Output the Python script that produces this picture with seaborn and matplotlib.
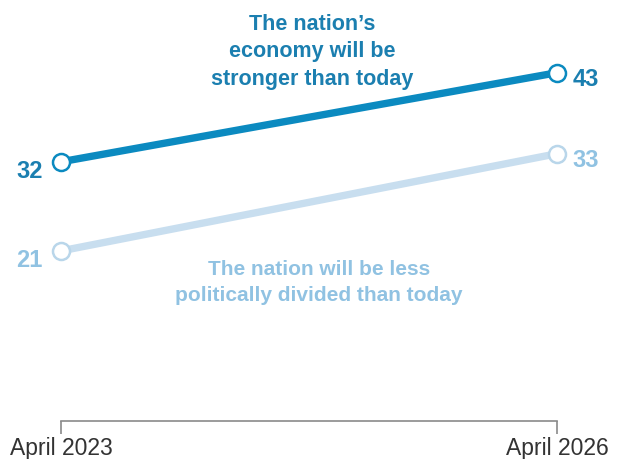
import matplotlib
matplotlib.use("Agg")
import matplotlib.pyplot as plt
import seaborn as sns
import pandas as pd

# Survey share expecting each outcome, by survey wave
periods = ["April 2023", "April 2026"]
economy_stronger = [32, 43]
less_divided = [21, 33]
series_names = ["The nation\u2019s\neconomy will be\nstronger than today",
                "The nation will be less\npolitically divided than today"]

dark_line = "#0b8ac0"
dark_text = "#1b7fb0"
light_line = "#c8deef"
light_text = "#90c2e2"

sns.set_theme(style="white")
plt.rcParams["font.family"] = ["Liberation Sans Narrow", "Liberation Sans", "DejaVu Sans"]

df = pd.DataFrame({
    "pos": list(range(len(periods))) * 2,
    "value": economy_stronger + less_divided,
    "series": [series_names[0]] * 2 + [series_names[1]] * 2,
})

fig = plt.figure(figsize=(6.2, 4.6), dpi=100)
ax = fig.add_axes([61 / 620, 38 / 460, 496 / 620, 405 / 460])

sns.lineplot(data=df, x="pos", y="value", hue="series",
             palette={series_names[0]: dark_line, series_names[1]: light_line},
             linewidth=5.3, legend=False, ax=ax, solid_capstyle="butt")
for name, col in [(series_names[0], dark_line), (series_names[1], "#b9d6ea")]:
    sub = df[df["series"] == name]
    ax.scatter(sub["pos"], sub["value"], s=150, facecolor="white",
               edgecolor=col, linewidth=1.8, zorder=5, clip_on=False)

# End-point value labels
bold = dict(fontweight="bold", fontsize=17, family=["Liberation Sans", "DejaVu Sans"])
for vals, col in [(economy_stronger, dark_text), (less_divided, light_text)]:
    ax.annotate(f"{vals[0]}", (0, vals[0]), xytext=(-13, -6), textcoords="offset points",
                ha="right", va="center", color=col, **bold)
    ax.annotate(f"{vals[1]}", (1, vals[1]), xytext=(11, -4), textcoords="offset points",
                ha="left", va="center", color=col, **bold)

# Series labels
ax.text(0.506, 41.0, series_names[0], ha="center", va="bottom", color=dark_text,
        fontsize=15.5, fontweight="bold", linespacing=1.4,
        family=["Liberation Sans", "DejaVu Sans"])
ax.text(0.52, 20.0, series_names[1], ha="center", va="top", color=light_text,
        fontsize=15, fontweight="bold", linespacing=1.45,
        family=["Liberation Sans", "DejaVu Sans"])

ax.set_xlim(0, 1)
ax.set_ylim(0, 50)
ax.set_xticks(range(len(periods)))
ax.set_xticklabels(periods, fontsize=16.5, color="#333333")
ax.set_yticks([])
ax.set_xlabel("")
ax.set_ylabel("")
for s in ["top", "left", "right"]:
    ax.spines[s].set_visible(False)
ax.spines["bottom"].set_color("#8a8a8a")
ax.spines["bottom"].set_linewidth(1.2)
ax.tick_params(axis="x", direction="out", length=9, width=1.2, color="#8a8a8a",
               pad=2, bottom=True)

fig.savefig("out.png", dpi=100, facecolor="white")
